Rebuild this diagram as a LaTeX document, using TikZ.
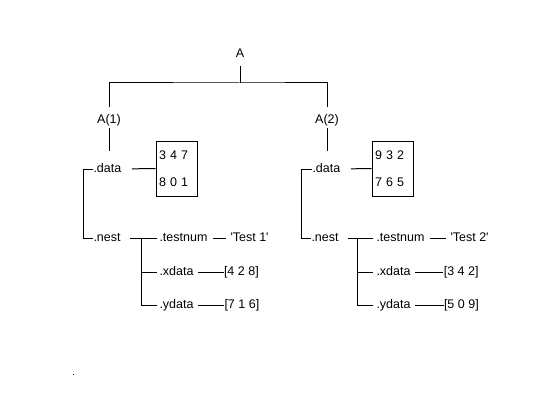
\documentclass[tikz,border=0pt]{standalone}
\usepackage{fontspec}
\setmainfont{Liberation Sans}
\begin{document}
\begin{tikzpicture}[x=1pt,y=-1pt,line width=1pt,
  lab/.style={font=\fontsize{12.5}{15}\selectfont, inner sep=0pt, text height=9pt, text depth=3pt},
  fld/.style={lab, anchor=west},
  mat/.style={draw, text width=35pt, align=left, inner xsep=3pt, inner ysep=0pt,
              minimum height=55pt, font=\fontsize{12.5}{27}\selectfont}]
\useasboundingbox[fill=white] (0,0) rectangle (560,420);

% root
\node[lab] (A) at (240,55) {A};
\coordinate (top) at (240,83);
\node[lab] (A1) at (109,120) {A(1)};
\node[lab] (A2) at (327,120) {A(2)};
\draw[shorten <=5pt] (A.south) -- (top);
\draw[shorten <=6pt, shorten >=6pt] (A1.north) |- (top) -| (A2.north);

% ---------- left subtree ----------
\node[fld] (d1) at (93,169) {.data};
\node[fld] (n1) at (93,238) {.nest};
\coordinate (c1) at (83,169);
\draw[shorten <=1pt, shorten >=12pt] (A1.south) -- (A1.south |- d1.north);
\draw (d1.west) -- (c1) |- (n1.west);
\node[mat] (b1) at (176.5,168.5) {3 4 7\\8 0 1};
\draw[shorten <=10pt] (d1.east) -- (b1.west);

\node[fld] (t1) at (159,238) {.testnum};
\node[fld] (x1) at (159,272) {.xdata};
\node[fld] (y1) at (159,305) {.ydata};
\coordinate (j1) at (141,238);
\draw[shorten <=9pt, shorten >=2pt] (n1.east) -- (t1.west);
\draw[shorten >=2pt] (j1) |- (y1.west);
\draw[shorten >=2pt] (j1 |- x1.west) -- (x1.west);

\node[fld] (v1) at (230,238) {\textquotesingle Test 1\textquotesingle};
\node[fld] (xv1) at (223.5,272) {[4 2 8]};
\node[fld] (yv1) at (224,305) {[7 1 6]};
\draw[shorten <=5pt, shorten >=4pt] (t1.east) -- (v1.west);
\draw[shorten <=4pt] (x1.east) -- (xv1.west);
\draw[shorten <=4pt] (y1.east) -- (yv1.west);

% ---------- right subtree ----------
\node[fld] (d2) at (312,169) {.data};
\node[fld] (n2) at (311,238) {.nest};
\coordinate (c2) at (301,169);
\draw[shorten <=1pt, shorten >=12pt] (A2.south) -- (A2.south |- d2.north);
\draw (d2.west) -- (c2) |- (n2.west);
\node[mat] (b2) at (392.5,168.5) {9 3 2\\7 6 5};
\draw[shorten <=10pt] (d2.east) -- (b2.west);

\node[fld] (t2) at (376,238) {.testnum};
\node[fld] (x2) at (376,272) {.xdata};
\node[fld] (y2) at (376,305) {.ydata};
\coordinate (j2) at (357,238);
\draw[shorten <=9pt, shorten >=3pt] (n2.east) -- (t2.west);
\draw[shorten >=3pt] (j2) |- (y2.west);
\draw[shorten >=3pt] (j2 |- x2.west) -- (x2.west);

\node[fld] (v2) at (450,238) {\textquotesingle Test 2\textquotesingle};
\node[fld] (xv2) at (443.3,272) {[3 4 2]};
\node[fld] (yv2) at (443.5,305) {[5 0 9]};
\draw[shorten <=5pt, shorten >=4pt] (t2.east) -- (v2.west);
\draw[shorten <=4pt] (x2.east) -- (xv2.west);
\draw[shorten <=4pt] (y2.east) -- (yv2.west);

% stray dot
\fill (72.5,373.5) rectangle (73.7,374.7);
\end{tikzpicture}
\end{document}
